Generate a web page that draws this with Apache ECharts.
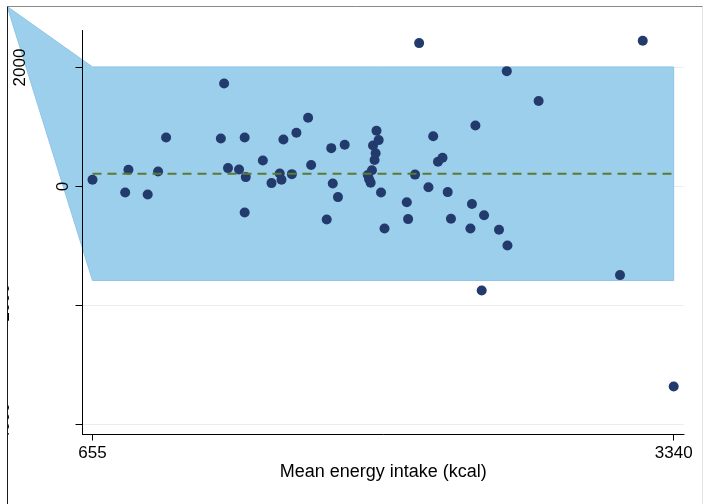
<!DOCTYPE html>
<html>
<head>
<meta charset="utf-8">
<title>Bland-Altman</title>
<script src="https://cdn.jsdelivr.net/npm/echarts@6/dist/echarts.min.js"></script>
<style>html,body{margin:0;padding:0;background:#fff;}</style>
</head>
<body>
<div id="main" style="width:703px;height:504px;"></div>
<script>
// mean of the two methods (x) and their difference (y)
var meanIntake = [655, 806, 821, 910, 958, 995, 1248, 1263, 1281, 1332,
  1358, 1358, 1363, 1442, 1482, 1520, 1528, 1537, 1576, 1597,
  1651, 1665, 1737, 1758, 1765, 1789, 1820, 1927, 1933, 1940,
  1946, 1951, 1958, 1963, 1967, 1977, 1988, 2004, 2107, 2113,
  2145, 2164, 2207, 2229, 2251, 2272, 2296, 2311, 2401, 2408,
  2424, 2453, 2464, 2533, 2569, 2572, 2716, 3092, 3197, 3340];
var difference = [113, -101, 281, -134, 252, 824, 807, 1731, 309, 286,
  824, -437, 158, 437, 57, 218, 113, 790, 208, 903,
  1155, 360, -555, 645, 50, -178, 701, 193, 121, 62,
  272, 689, 445, 558, 936, 780, -101, -706, -266, -548,
  200, 2410, -13, 844, 415, 482, -94, -543, -706, -294,
  1025, -1748, -484, -728, 1939, -992, 1437, -1489, 2449, -3361];

var meanDiff = 215;
var upperLimit = 2010;
var lowerLimit = -1580;
// limits of agreement band (with its stray first vertex)
var bandX = [261, 655, 3340, 3340, 655];
var bandY = [3025, upperLimit, upperLimit, lowerLimit, lowerLimit];

var xTicks = [655, 3340];
var yTicks = [-4000, -2000, 0, 2000];

var font = 'Liberation Sans, Arial, sans-serif';
var yMin = -4168, yMax = 2622;

var points = meanIntake.map(function (x, i) { return [x, difference[i]]; });

var chart = echarts.init(document.getElementById('main'));
var option = {
  animation: false,
  backgroundColor: '#fff',
  grid: { left: 82.5, right: 19, top: 30.5, bottom: 69.5, containLabel: false, outerBoundsMode: 'none' },
  xAxis: {
    type: 'value', min: 608.8, max: 3387.6,
    z: 5,
    name: 'Mean energy intake (kcal)',
    nameLocation: 'middle', nameGap: 29, nameMoveOverlap: false,
    nameTextStyle: { fontSize: 18, color: '#000', fontFamily: font },
    axisLine: { show: true, onZero: false, lineStyle: { color: '#000', width: 1 } },
    axisTick: { show: true, length: 6, customValues: xTicks, lineStyle: { color: '#000' } },
    axisLabel: {
      customValues: xTicks, margin: 10, fontSize: 17, color: '#000', fontFamily: font,
      formatter: function (v) { return String(v); }
    },
    splitLine: { show: false }
  },
  yAxis: [
    {
      type: 'value', min: yMin, max: yMax,
      position: 'left',
      z: 5,
      axisLine: { show: true, lineStyle: { color: '#000', width: 1 } },
      axisTick: { show: true, length: 7, customValues: yTicks, lineStyle: { color: '#000' } },
      axisLabel: {
        customValues: yTicks, rotate: 90, margin: 11,
        fontSize: 17, color: '#000', fontFamily: font,
        formatter: function (v) {
          if (v === 0) return '{a|0}';
          if (v === 2000) return '{b|2000}';
          return '{c|' + v + '}';
        },
        rich: {
          a: { fontSize: 17, fontFamily: font, color: '#000' },
          b: { fontSize: 17, fontFamily: font, color: '#000', padding: [0, 0, 43, 0] },
          c: { fontSize: 17, fontFamily: font, color: '#000', padding: [0, 0, 59, 0] }
        }
      },
      splitLine: { show: false }
    },
    {
      // grid lines only, kept beneath the band
      type: 'value', min: yMin, max: yMax,
      z: 0,
      axisLine: { show: false },
      axisTick: { show: false, customValues: yTicks },
      axisLabel: { show: false, customValues: yTicks },
      splitLine: { show: true, lineStyle: { color: '#e8eef3', width: 1 } }
    }
  ],
  series: [
    {
      type: 'custom',
      clip: false,
      z: 1,
      silent: true,
      data: [[bandX[0], bandY[0]]],
      renderItem: function (params, api) {
        var pts = bandX.map(function (x, i) { return api.coord([x, bandY[i]]); });
        return {
          type: 'polygon',
          shape: { points: pts },
          style: { fill: '#9ccfec', stroke: '#8fc5e8', lineWidth: 1 }
        };
      }
    },
    {
      type: 'scatter',
      z: 6,
      symbol: 'circle',
      symbolSize: 10,
      itemStyle: { color: '#233a6c', opacity: 1 },
      data: points
    },
    {
      type: 'line',
      z: 7,
      symbol: 'none',
      lineStyle: { color: '#5a7a35', width: 2, type: [9, 6] },
      data: [[xTicks[0], meanDiff], [xTicks[1], meanDiff]]
    }
  ],
  graphic: [
    { type: 'rect', left: 0, top: 0, z: 100, shape: { width: 7, height: 504 }, style: { fill: '#fff' } },
    { type: 'rect', left: 0, top: 0, z: 100, shape: { width: 703, height: 6 }, style: { fill: '#fff' } },
    { type: 'line', z: 101, shape: { x1: 7.5, y1: 6.5, x2: 703, y2: 6.5 }, style: { stroke: '#8a8a8a', lineWidth: 1 } },
    { type: 'line', z: 101, shape: { x1: 7.5, y1: 6.5, x2: 7.5, y2: 504 }, style: { stroke: '#1a1a1a', lineWidth: 1 } },
    { type: 'line', z: 101, shape: { x1: 702.5, y1: 6.5, x2: 702.5, y2: 504 }, style: { stroke: '#e4e4e4', lineWidth: 1 } }
  ]
};
chart.setOption(option);
</script>
</body>
</html>
